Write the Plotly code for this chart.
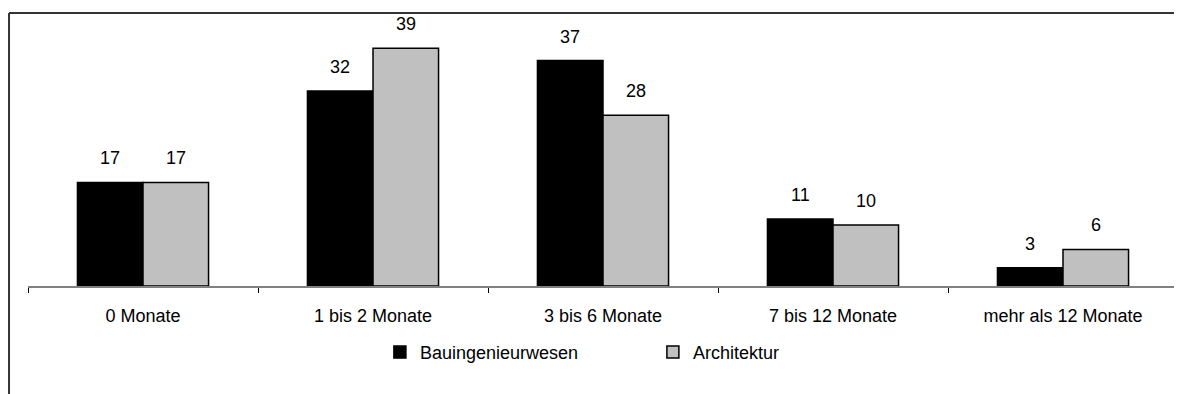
import plotly.graph_objects as go

kategorien = ['0 Monate', '1 bis 2 Monate', '3 bis 6 Monate', '7 bis 12 Monate', 'mehr als 12 Monate']
bauing = [17, 32, 37, 11, 3]
archi = [17, 39, 28, 10, 6]

FONT = 'Liberation Sans, Arial, sans-serif'
FS = 18

fig = go.Figure()
fig.add_trace(go.Bar(x=kategorien, y=bauing, name='Bauingenieurwesen',
                     marker=dict(color='#000000', line=dict(color='#000000', width=1.5))))
fig.add_trace(go.Bar(x=kategorien, y=archi, name='Architektur',
                     marker=dict(color='#c0c0c0', line=dict(color='#000000', width=1.5))))

# Werte über den Balken
for vals, dx in ((bauing, -33), (archi, 33)):
    for k, v in zip(kategorien, vals):
        fig.add_annotation(x=k, y=v, text=str(v), showarrow=False, xshift=dx, yshift=24,
                           font=dict(size=FS, color='#000000', family=FONT))

# abgeschnittener Titel oben (nur die Unterlängen sind sichtbar)
fig.add_annotation(xref='paper', yref='paper', x=0.0, y=1.072, xanchor='left', yanchor='bottom',
                   text='Suchdauer (Monate) bis Einstellung: Anteil in % (n = 204)', showarrow=False,
                   font=dict(size=17, color='#000000', family=FONT))

# Rahmen
fig.add_shape(type='line', xref='paper', yref='paper', x0=-0.0165, x1=1.2, y0=1.054, y1=1.054,
              line=dict(color='#333333', width=2))
fig.add_shape(type='line', xref='paper', yref='paper', x0=-0.0165, x1=-0.0165, y0=1.054, y1=-0.6,
              line=dict(color='#333333', width=2))

fig.update_layout(
    width=1182, height=394,
    margin=dict(l=20, r=12, t=19, b=116, autoexpand=False),
    paper_bgcolor='white', plot_bgcolor='white',
    barmode='group', bargap=0.43, bargroupgap=0,
    font=dict(family=FONT, size=FS, color='#000000'),
    showlegend=True,
    legend=dict(orientation='h', x=0.306, y=-0.185, xanchor='left', yanchor='top',
                entrywidth=228, font=dict(size=FS, family=FONT)),
    xaxis=dict(type='category', tickson='boundaries', ticks='outside', ticklen=5,
               tickcolor='#000000', showline=True, linecolor='#808080', linewidth=2,
               showgrid=False, automargin=False, ticklabelstandoff=12,
               tickfont=dict(size=FS, family=FONT)),
    yaxis=dict(range=[0, 42.5], visible=False, showgrid=False, zeroline=False),
)

fig.write_html('out.html')
